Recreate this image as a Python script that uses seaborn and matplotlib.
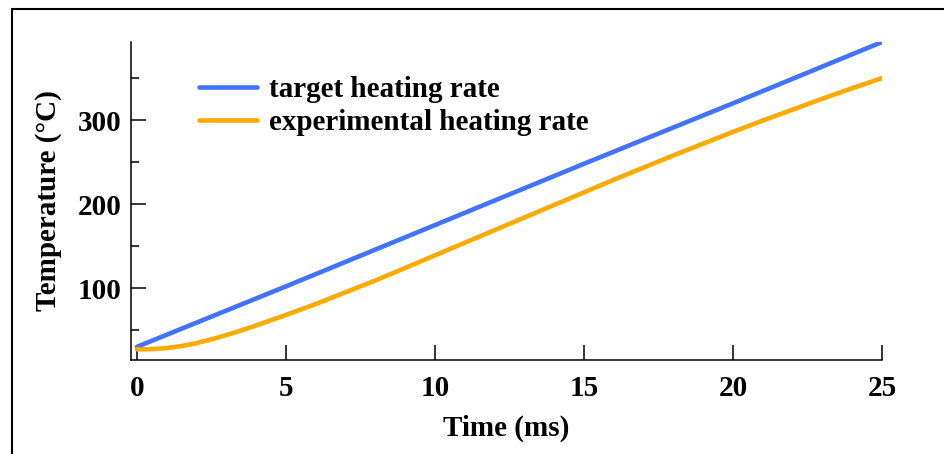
import numpy as np
import pandas as pd
import matplotlib
matplotlib.use("Agg")
import matplotlib.pyplot as plt
import matplotlib.patches as patches
from matplotlib.ticker import MultipleLocator
import seaborn as sns

# values (time in ms, temperature in degC)
target_time = [0, 5, 10, 15, 20, 25]
target_temp = [30, 102, 175, 248, 320, 393]

exp_time = [0, 0.5, 1, 1.5, 2, 2.5, 3, 3.5, 4, 5, 6, 7, 8, 9, 10, 11, 12, 13,
            14, 15, 16, 17, 18, 19, 20, 21, 22, 23, 24, 25]
exp_temp = [27, 27.3, 28.5, 31, 34.5, 39, 44, 49.5, 55.5, 68, 81, 95, 109, 124,
            139, 154, 169, 184, 199, 214, 229, 243.5, 258, 272, 286, 299.5,
            312.5, 325.5, 338, 350]

labels = ["target heating rate", "experimental heating rate"]
colors = ["#4273ff", "#ffaa00"]

df = pd.concat([
    pd.DataFrame({"time": target_time, "temp": target_temp, "series": labels[0]}),
    pd.DataFrame({"time": exp_time, "temp": exp_temp, "series": labels[1]}),
])

sns.set_style("ticks")
plt.rcParams["font.family"] = ["Liberation Serif", "DejaVu Serif"]
plt.rcParams["font.weight"] = "bold"
plt.rcParams["text.color"] = "black"
plt.rcParams["axes.labelcolor"] = "black"
plt.rcParams["xtick.color"] = "black"
plt.rcParams["ytick.color"] = "black"

FS = 21

fig = plt.figure(figsize=(9.44, 4.54), dpi=100)
ax = fig.add_axes([131 / 944, 1 - 360 / 454, (882 - 131) / 944, (360 - 42) / 454])

sns.lineplot(data=df, x="time", y="temp", hue="series", palette=colors,
             linewidth=3.3, ax=ax, solid_capstyle="round", legend=True)

ax.set_xlim(-0.2, 25)
ax.set_ylim(14.3, 393)
ax.set_xticks([0, 5, 10, 15, 20, 25])
ax.yaxis.set_major_locator(MultipleLocator(100))
ax.yaxis.set_minor_locator(MultipleLocator(50))
ax.tick_params(axis="both", which="major", direction="in", length=11, width=1.1,
               labelsize=FS, pad=7, colors="black")
ax.tick_params(axis="y", which="minor", direction="in", length=5.5, width=1.1,
               colors="black")
ax.tick_params(axis="x", pad=11)
for lab in ax.get_xticklabels() + ax.get_yticklabels():
    lab.set_fontweight("bold")

sns.despine(ax=ax)
for s in ["left", "bottom"]:
    ax.spines[s].set_linewidth(1.1)
    ax.spines[s].set_color("black")

ax.set_xlabel("Time (ms)", fontsize=FS, fontweight="bold", labelpad=9)
ax.set_ylabel("Temperature (°C)", fontsize=FS, fontweight="bold", labelpad=11)

leg = ax.legend(frameon=False, loc="upper left", bbox_to_anchor=(0.075, 0.93),
                prop={"size": FS, "weight": "bold"}, handlelength=2.0,
                handletextpad=0.4, labelspacing=0.2, borderaxespad=0)
for h in leg.get_lines():
    h.set_linewidth(3.3)
    h.set_solid_capstyle("round")

# black frame around the figure (right and bottom fall outside the picture)
fig.add_artist(patches.Rectangle((12 / 944, -0.1), 1.2, 1.1 - 9 / 454,
                                 transform=fig.transFigure, fill=False,
                                 edgecolor="black", linewidth=1.5))

fig.savefig("out.png", dpi=100)
